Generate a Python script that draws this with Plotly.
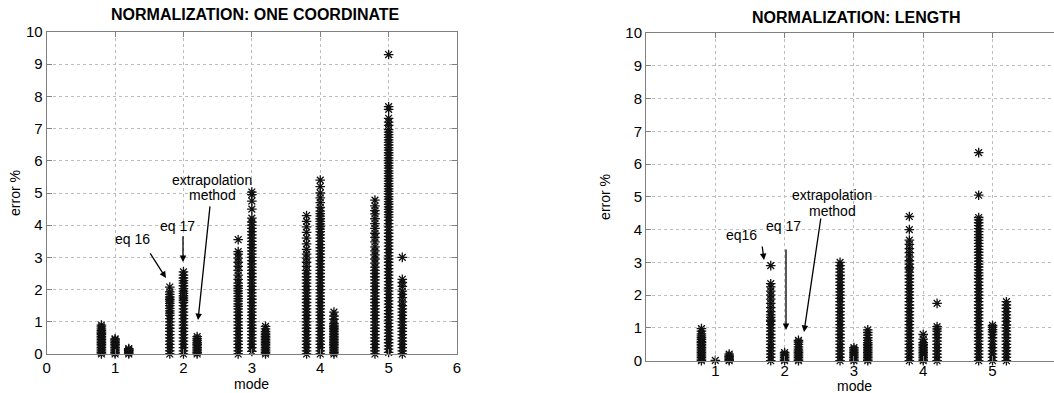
import plotly.graph_objects as go

# ---------------- data ----------------
modes = [1, 2, 3, 4, 5]
methods = ["eq 16", "eq 17", "extrapolation method"]
xticks_left = [0, 1, 2, 3, 4, 5, 6]
xticks_right = [1, 2, 3, 4, 5]
yticks = [0, 1, 2, 3, 4, 5, 6, 7, 8, 9, 10]

# NORMALIZATION: ONE COORDINATE  (error % per mode, per method)
L_m1_eq16 = [0.0, 0.05, 0.1, 0.15, 0.2, 0.25, 0.3, 0.35, 0.4, 0.45, 0.5, 0.55, 0.6, 0.64, 0.68, 0.73, 0.78, 0.84, 0.9]
L_m1_eq17 = [0.0, 0.05, 0.1, 0.15, 0.2, 0.25, 0.3, 0.35, 0.4, 0.44, 0.47]
L_m1_ext = [0.0, 0.04, 0.08, 0.11, 0.14, 0.17]
L_m2_eq16 = [0.0, 0.1, 0.2, 0.3, 0.4, 0.5, 0.6, 0.7, 0.8, 0.9, 1.0, 1.1, 1.2, 1.27, 1.34, 1.42, 1.5, 1.57,
             1.64, 1.7, 1.77, 1.85, 1.93, 2.08]
L_m2_eq17 = [0.0, 0.1, 0.2, 0.3, 0.4, 0.5, 0.6, 0.7, 0.8, 0.9, 1.0, 1.1, 1.2, 1.3, 1.4, 1.5, 1.6, 1.67, 1.74,
             1.81, 1.88, 1.95, 2.03, 2.12, 2.2, 2.28, 2.36, 2.45, 2.55]
L_m2_ext = [0.0, 0.05, 0.1, 0.15, 0.2, 0.25, 0.3, 0.35, 0.42, 0.48, 0.54]
L_m3_eq16 = [0.0, 0.1, 0.2, 0.3, 0.4, 0.5, 0.6, 0.7, 0.8, 0.9, 1.0, 1.1, 1.2, 1.3, 1.4, 1.48, 1.56, 1.64, 1.72,
             1.8, 1.88, 1.96, 2.04, 2.12, 2.2, 2.32, 2.45, 2.6, 2.72, 2.85, 2.98, 3.1, 3.18, 3.55]
L_m3_eq17 = [0.08, 0.2, 0.3, 0.4, 0.5, 0.6, 0.7, 0.8, 0.9, 1.0, 1.1, 1.2, 1.3, 1.4, 1.5, 1.6, 1.7, 1.8, 1.9,
             2.0, 2.1, 2.2, 2.3, 2.4, 2.5, 2.6, 2.7, 2.8, 2.9, 3.0, 3.1, 3.2, 3.3, 3.4, 3.5, 3.6, 3.7, 3.8,
             3.9, 4.0, 4.1, 4.22, 4.5, 4.75, 4.95, 5.03]
L_m3_ext = [0.0, 0.05, 0.1, 0.15, 0.2, 0.25, 0.3, 0.35, 0.4, 0.45, 0.5, 0.55, 0.6, 0.65, 0.7, 0.78, 0.86]
L_m4_eq16 = [0.0, 0.1, 0.2, 0.3, 0.4, 0.5, 0.6, 0.7, 0.8, 0.9, 1.0, 1.1, 1.2, 1.3, 1.4, 1.5, 1.6, 1.7, 1.8,
             1.9, 2.0, 2.1, 2.2, 2.3, 2.4, 2.5, 2.6, 2.72, 2.85, 2.98, 3.1, 3.25, 3.42, 3.6, 3.78, 3.95,
             4.12, 4.3]
L_m4_eq17 = [0.0, 0.1, 0.2, 0.3, 0.4, 0.5, 0.6, 0.7, 0.8, 0.9, 1.0, 1.1, 1.2, 1.3, 1.4, 1.5, 1.6, 1.7, 1.8,
             1.9, 2.0, 2.1, 2.2, 2.3, 2.4, 2.5, 2.6, 2.7, 2.8, 2.9, 3.0, 3.1, 3.2, 3.3, 3.4, 3.5, 3.6, 3.7,
             3.8, 3.88, 3.96, 4.04, 4.12, 4.2, 4.28, 4.36, 4.44, 4.55, 4.7, 4.85, 5.0, 5.2, 5.4]
L_m4_ext = [0.0, 0.05, 0.1, 0.15, 0.2, 0.25, 0.3, 0.35, 0.4, 0.45, 0.5, 0.55, 0.6, 0.65, 0.7, 0.75, 0.8,
            0.85, 0.9, 0.95, 1.08, 1.18, 1.3]
L_m5_eq16 = [0.0, 0.1, 0.2, 0.3, 0.4, 0.5, 0.6, 0.7, 0.8, 0.9, 1.0, 1.1, 1.2, 1.3, 1.4, 1.5, 1.6, 1.7, 1.8,
             1.9, 2.0, 2.1, 2.2, 2.3, 2.4, 2.5, 2.6, 2.7, 2.82, 2.95, 3.08, 3.2, 3.33, 3.48, 3.62, 3.75,
             3.9, 4.05, 4.2, 4.35, 4.45, 4.6, 4.78]
L_m5_eq17 = [0.05, 0.15, 0.25, 0.35, 0.45, 0.55, 0.65, 0.75, 0.85, 0.95, 1.05, 1.15, 1.25, 1.35, 1.45, 1.55,
             1.65, 1.75, 1.85, 1.95, 2.05, 2.15, 2.25, 2.35, 2.45, 2.55, 2.65, 2.75, 2.85, 2.95, 3.05, 3.15,
             3.25, 3.35, 3.45, 3.55, 3.65, 3.75, 3.85, 3.95, 4.05, 4.15, 4.25, 4.33, 4.41, 4.49, 4.57,
             4.65, 4.73, 4.81, 4.89, 4.97, 5.05, 5.13, 5.21, 5.29, 5.37, 5.45, 5.53, 5.61, 5.69, 5.77,
             5.85, 5.93, 6.01, 6.09, 6.17, 6.25, 6.33, 6.41, 6.49, 6.57, 6.65, 6.73, 6.81, 6.89, 6.97,
             7.1, 7.2, 7.32, 7.6, 7.68, 9.3]
L_m5_ext = [0.0, 0.1, 0.2, 0.3, 0.4, 0.5, 0.6, 0.7, 0.8, 0.9, 1.0, 1.1, 1.2, 1.3, 1.4, 1.5, 1.62, 1.75, 1.85,
            1.95, 2.1, 2.22, 2.32, 3.0]

# NORMALIZATION: LENGTH
R_m1_eq16 = [0.0, 0.05, 0.1, 0.15, 0.2, 0.25, 0.3, 0.35, 0.4, 0.45, 0.5, 0.55, 0.58, 0.64, 0.7, 0.76, 0.82,
             0.9, 0.98]
R_m1_eq17 = [0.01]
R_m1_ext = [0.0, 0.04, 0.08, 0.12, 0.15, 0.2]
R_m2_eq16 = [0.0, 0.1, 0.2, 0.3, 0.4, 0.5, 0.6, 0.7, 0.8, 0.9, 1.0, 1.1, 1.2, 1.24, 1.32, 1.4, 1.5, 1.62,
             1.75, 1.88, 2.0, 2.12, 2.25, 2.35, 2.9]
R_m2_eq17 = [0.0, 0.05, 0.1, 0.15, 0.2, 0.25]
R_m2_ext = [0.0, 0.05, 0.1, 0.15, 0.2, 0.25, 0.3, 0.35, 0.42, 0.5, 0.57, 0.62]
R_m3_eq16 = [0.0, 0.1, 0.2, 0.3, 0.4, 0.5, 0.6, 0.7, 0.8, 0.9, 1.0, 1.1, 1.2, 1.3, 1.4, 1.5, 1.6, 1.7, 1.8,
             1.9, 2.0, 2.1, 2.2, 2.3, 2.4, 2.5, 2.6, 2.7, 2.8, 2.9, 3.0]
R_m3_eq17 = [0.0, 0.05, 0.1, 0.15, 0.2, 0.25, 0.3, 0.35, 0.4]
R_m3_ext = [0.0, 0.05, 0.1, 0.15, 0.2, 0.25, 0.3, 0.35, 0.4, 0.45, 0.5, 0.55, 0.62, 0.7, 0.78, 0.86, 0.94]
R_m4_eq16 = [0.0, 0.1, 0.2, 0.3, 0.4, 0.5, 0.6, 0.7, 0.8, 0.9, 1.0, 1.1, 1.2, 1.3, 1.4, 1.5, 1.6, 1.7, 1.8,
             1.9, 2.0, 2.1, 2.2, 2.3, 2.4, 2.5, 2.6, 2.7, 2.8, 2.85, 2.95, 3.05, 3.17, 3.3, 3.42, 3.55,
             3.68, 4.0, 4.4]
R_m4_eq17 = [0.0, 0.05, 0.1, 0.15, 0.2, 0.25, 0.3, 0.35, 0.4, 0.45, 0.5, 0.55, 0.66, 0.8]
R_m4_ext = [0.0, 0.1, 0.2, 0.3, 0.4, 0.5, 0.6, 0.7, 0.8, 0.9, 0.97, 1.04, 1.75]
R_m5_eq16 = [0.0, 0.1, 0.2, 0.3, 0.4, 0.5, 0.6, 0.7, 0.8, 0.9, 1.0, 1.1, 1.2, 1.3, 1.4, 1.5, 1.6, 1.7, 1.8,
             1.9, 2.0, 2.1, 2.2, 2.3, 2.4, 2.5, 2.6, 2.68, 2.77, 2.86, 2.95, 3.04, 3.13, 3.22, 3.31, 3.4,
             3.49, 3.58, 3.67, 3.76, 3.85, 3.94, 4.03, 4.12, 4.21, 4.3, 4.37, 5.05, 6.35]
R_m5_eq17 = [0.0, 0.1, 0.2, 0.3, 0.4, 0.5, 0.6, 0.7, 0.8, 0.88, 0.95, 1.02, 1.08]
R_m5_ext = [0.0, 0.1, 0.2, 0.3, 0.4, 0.5, 0.6, 0.7, 0.8, 0.9, 1.0, 1.09, 1.2, 1.3, 1.4, 1.5, 1.6, 1.7, 1.8]

left_data = {
    "eq 16": [L_m1_eq16, L_m2_eq16, L_m3_eq16, L_m4_eq16, L_m5_eq16],
    "eq 17": [L_m1_eq17, L_m2_eq17, L_m3_eq17, L_m4_eq17, L_m5_eq17],
    "extrapolation method": [L_m1_ext, L_m2_ext, L_m3_ext, L_m4_ext, L_m5_ext],
}
right_data = {
    "eq 16": [R_m1_eq16, R_m2_eq16, R_m3_eq16, R_m4_eq16, R_m5_eq16],
    "eq 17": [R_m1_eq17, R_m2_eq17, R_m3_eq17, R_m4_eq17, R_m5_eq17],
    "extrapolation method": [R_m1_ext, R_m2_ext, R_m3_ext, R_m4_ext, R_m5_ext],
}

# ---------------- styling ----------------
offsets = {"eq 16": -0.2, "eq 17": 0.0, "extrapolation method": 0.2}
FONT = "Liberation Sans, Arial, Helvetica, sans-serif"
marker = dict(symbol="asterisk-open", size=8, color="#111", line=dict(color="#111", width=1.3))

fig = go.Figure()
for data, xa, ya in [(left_data, "x", "y"), (right_data, "x2", "y2")]:
    for meth in methods:
        xs, ys = [], []
        for m, vals in zip(modes, data[meth]):
            xs += [m + offsets[meth]] * len(vals)
            ys += vals
        fig.add_trace(go.Scatter(x=xs, y=ys, mode="markers", marker=marker, name=meth,
                                 xaxis=xa, yaxis=ya, cliponaxis=False, showlegend=False))

axis_common = dict(showgrid=True, gridcolor="#bdbdbd", griddash="dot", gridwidth=1,
                   showline=True, linecolor="#808080", linewidth=1, zeroline=False,
                   ticks="inside", ticklen=5, tickcolor="#808080",
                   tickfont=dict(family=FONT, size=15, color="black"))

fig.update_layout(
    width=1054, height=393, margin=dict(l=0, r=0, t=0, b=0, autoexpand=False),
    paper_bgcolor="white", plot_bgcolor="white",
    font=dict(family=FONT, color="black"),
    xaxis=dict(domain=[0.0443, 0.4336], range=[0, 6], tickvals=xticks_left, mirror="ticks",
               anchor="y", automargin=False, **axis_common),
    yaxis=dict(domain=[0.0992, 0.9186], range=[0, 10], tickvals=yticks, mirror="ticks",
               anchor="x", automargin=False, **axis_common),
    xaxis2=dict(domain=[0.6129, 1.0], range=[0, 5.887], tickvals=xticks_right, mirror="ticks",
                anchor="y2", automargin=False, **axis_common),
    yaxis2=dict(domain=[0.0822, 0.916], range=[0, 10], tickvals=yticks, mirror=False,
                anchor="x2", automargin=False, **axis_common),
)
try:
    fig.update_layout(xaxis2_ticklabelstandoff=-4)
except Exception:
    pass

ann = []
def text(x, y, t, size=14, bold=False, xref="paper", yref="paper", angle=0):
    ann.append(dict(x=x, y=y, xref=xref, yref=yref, text=("<b>%s</b>" % t) if bold else t,
                    showarrow=False, textangle=angle, xanchor="center", yanchor="middle",
                    font=dict(family=FONT, size=size, color="black")))

def arrow(x, y, ax, ay, xref, yref):
    ann.append(dict(x=x, y=y, ax=ax, ay=ay, xref=xref, yref=yref, axref=xref, ayref=yref,
                    text="", showarrow=True, arrowhead=2, arrowsize=1, arrowwidth=1.3,
                    arrowcolor="black", standoff=0, startstandoff=0))

# titles and axis labels
text(0.242, 0.962, "NORMALIZATION: ONE COORDINATE", size=16, bold=True)
text(0.813, 0.955, "NORMALIZATION: LENGTH", size=16, bold=True)
text(0.0142, 0.509, "error %", angle=-90)
text(0.574, 0.499, "error %", angle=-90)
text(0.239, 0.022, "mode")
text(0.811, 0.018, "mode")

# left panel annotations
text(1.25, 3.57, "eq 16", xref="x", yref="y")
arrow(1.744, 2.36, 1.50, 3.17, "x", "y")
text(1.92, 3.98, "eq 17", xref="x", yref="y")
arrow(1.993, 2.86, 1.993, 3.70, "x", "y")
text(2.42, 5.40, "extrapolation", xref="x", yref="y")
text(2.42, 4.94, "method", xref="x", yref="y")
arrow(2.213, 1.056, 2.39, 4.63, "x", "y")

# right panel annotations
text(1.371, 3.84, "eq16", xref="x2", yref="y2")
arrow(1.703, 3.07, 1.674, 3.53, "x2", "y2")
text(1.977, 4.11, "eq 17", xref="x2", yref="y2")
arrow(2.02, 0.937, 2.02, 3.44, "x2", "y2")
text(2.684, 5.06, "extrapolation", xref="x2", yref="y2")
text(2.684, 4.57, "method", xref="x2", yref="y2")
arrow(2.28, 0.875, 2.525, 4.385, "x2", "y2")

fig.update_layout(annotations=ann)
fig.write_html("out.html", config={"displayModeBar": False},
               post_script="document.body.style.margin='0px';document.body.style.overflow='hidden';")
